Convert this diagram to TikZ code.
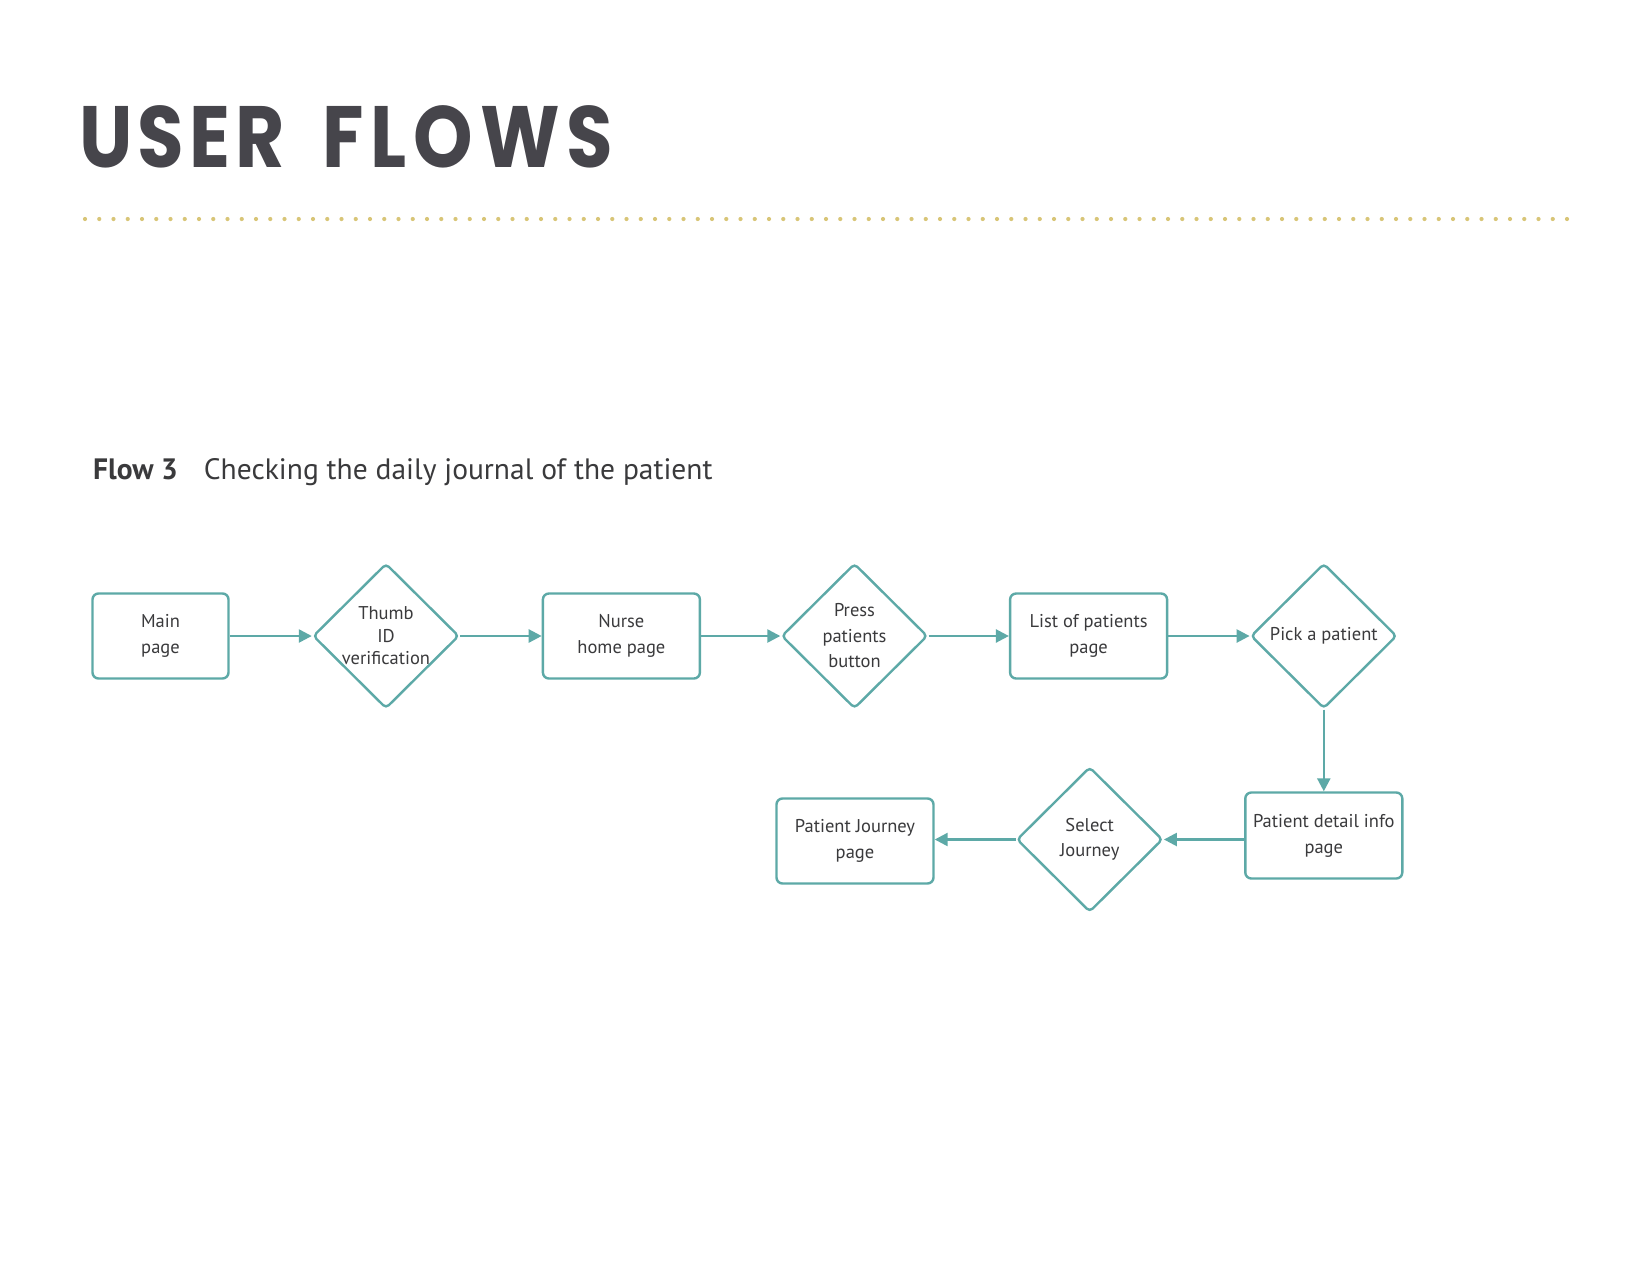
\documentclass[tikz,border=0pt]{standalone}
\usepackage{fontspec}
\setmainfont{PT Sans}
\newfontfamily\titlefont{Poppins}[LetterSpace=6,FakeStretch=0.87]
\usetikzlibrary{shapes.geometric,arrows.meta}
\definecolor{teal}{HTML}{5DA9A7}
\definecolor{txt}{HTML}{3A3A3C}
\definecolor{ttl}{HTML}{46454B}
\definecolor{gold}{HTML}{D8C577}
\tikzset{
  pagebox/.style={draw=teal, line width=2.4pt, rounded corners=6pt, rectangle, inner sep=0pt, align=center, text=txt, font=\fontsize{18.5}{26}\selectfont},
  choice/.style={draw=teal, line width=2.4pt, rounded corners=4pt, diamond, aspect=1, inner sep=0pt, minimum width=146pt, minimum height=145pt},
  choicetext/.style={align=center, text=txt, font=\fontsize{18.5}{25.5}\selectfont},
  flow/.style={draw=teal, line width=2.4pt, -{Triangle[length=13pt,width=13pt]}}
}
\begin{document}
\begin{tikzpicture}[x=1pt,y=-1pt]
\useasboundingbox[fill=white] (0,0) rectangle (1650,1275);
\node[anchor=base west, inner sep=0pt, text=ttl, font=\titlefont\bfseries\fontsize{87}{87}\selectfont] (title) at (79,167) {USER\hspace{37pt}F\kern7pt L\kern7pt O\kern7pt W\kern7pt S};
\foreach \i in {0,...,104} {
  \fill[gold] (85+\i*14.25,219) circle (2.1pt);
}
\node[anchor=base west, inner sep=0pt, text=txt, font=\fontsize{29.5}{30}\selectfont] (sub) at (93,479) {\textbf{Flow 3}\hspace{26pt}Checking the daily journal of the patient};

\node[pagebox, minimum width=136pt, minimum height=85pt] (main) at (160.5,636) {Main\\page};
\node[choice, label={[choicetext, font=\fontsize{18.5}{22.5}\selectfont]center:Thumb\\ID\\verification}] (thumb) at (386,636) {};
\node[pagebox, minimum width=157pt, minimum height=85pt] (nurse) at (621.4,636) {Nurse\\home page};
\node[choice, label={[choicetext]center:Press\\patients\\button}] (press) at (854.5,636) {};
\node[pagebox, minimum width=157pt, minimum height=85pt] (list) at (1088.6,636) {List of patients\\page};
\node[choice, label={[choicetext]center:Pick a patient}] (pick) at (1323.8,636) {};
\node[pagebox, minimum width=157pt, minimum height=86pt] (detail) at (1323.8,835.5) {Patient detail info\\page};
\node[choice, label={[choicetext]center:Select\\Journey}] (select) at (1089.7,839.5) {};
\node[pagebox, minimum width=157pt, minimum height=85pt] (journey) at (855,841) {Patient Journey\\page};

\draw[flow] (main.east) -- (thumb.west);
\draw[flow] (thumb.east) -- (nurse.west);
\draw[flow] (nurse.east) -- (press.west);
\draw[flow] (press.east) -- (list.west);
\draw[flow] (list.east) -- (pick.west);
\draw[flow] (pick.south) -- (detail.north);
\draw[flow] (detail.west |- select.east) -- (select.east);
\draw[flow] (select.west) -- (journey.east |- select.west);
\end{tikzpicture}
\end{document}
